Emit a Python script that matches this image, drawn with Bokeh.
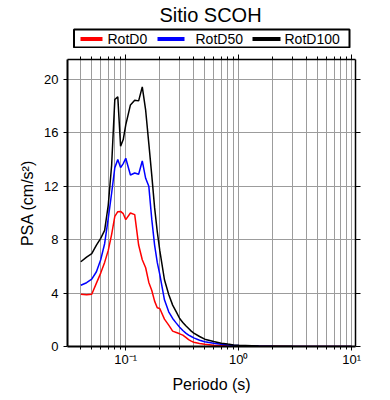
from bokeh.plotting import figure
from bokeh.layouts import column
from bokeh.models import (Range1d, FixedTicker, LogAxis, LinearAxis, CustomJSTickFormatter)
from bokeh.core.properties import value
from bokeh.embed import file_html
from bokeh.resources import INLINE

periods = [0.04, 0.045, 0.05, 0.055, 0.06, 0.065, 0.07, 0.075, 0.08, 0.085, 0.09, 0.095,
           0.1, 0.11, 0.12, 0.13, 0.14, 0.15, 0.16, 0.17, 0.18, 0.19, 0.2, 0.22, 0.24,
           0.26, 0.28, 0.3, 0.32, 0.34, 0.36, 0.38, 0.4, 0.45, 0.5, 0.6, 0.7, 0.8, 0.9,
           1.0, 1.5, 2.0, 3.0, 4.0, 5.0, 7.5, 10.0]

rotd0 = [3.92, 3.87, 3.92, 4.75, 5.5, 6.3, 7.2, 8.4, 9.75, 10.1, 10.12, 9.95,
         9.5, 10.0, 9.88, 7.6, 6.5, 5.9, 4.8, 4.2, 3.4, 2.9, 2.85, 2.05, 1.6,
         1.15, 1.05, 0.95, 0.85, 0.68, 0.52, 0.4, 0.32, 0.22, 0.16, 0.1, 0.07, 0.05, 0.04,
         0.03, 0.015, 0.01, 0.006, 0.004, 0.003, 0.002, 0.002]

rotd50 = [4.59, 4.78, 5.04, 5.6, 6.5, 7.7, 9.6, 11.5, 13.4, 14.0, 13.4, 13.7,
          14.1, 12.85, 13.0, 12.9, 13.9, 12.6, 12.0, 9.5, 7.6, 6.3, 5.4, 3.5, 2.6,
          2.1, 1.75, 1.45, 1.2, 1.0, 0.85, 0.75, 0.65, 0.47, 0.35, 0.25, 0.17, 0.12, 0.09,
          0.07, 0.03, 0.015, 0.008, 0.006, 0.004, 0.003, 0.003]

rotd100 = [6.35, 6.7, 6.95, 7.6, 8.1, 8.7, 10.6, 13.6, 18.5, 18.7, 15.0, 15.5,
           16.6, 18.1, 18.45, 18.4, 19.45, 17.7, 15.2, 12.8, 10.4, 8.6, 7.2, 5.0, 3.9,
           3.1, 2.6, 2.1, 1.8, 1.55, 1.35, 1.15, 1.0, 0.75, 0.55, 0.38, 0.25, 0.18, 0.12,
           0.09, 0.04, 0.02, 0.01, 0.008, 0.006, 0.005, 0.004]

series_names = ["RotD0", "RotD50", "RotD100"]
series_colors = ["#ff0000", "#0000ff", "#000000"]
title_text = "Sitio SCOH"

major_x = [0.1, 1.0, 10.0]
minor_x = [0.04, 0.05, 0.06, 0.07, 0.08, 0.09,
           0.2, 0.3, 0.4, 0.5, 0.6, 0.7, 0.8, 0.9,
           2.0, 3.0, 4.0, 5.0, 6.0, 7.0, 8.0, 9.0]
y_ticks = [0, 4, 8, 12, 16, 20]

FONT = "Liberation Sans"
GRID = "#9c9c9c"
W = 380
TOP_H = 48
LEFT, RIGHT = 67, 25

# ---------- header: title + legend (page-pixel coordinates, y downward) ----------
# (the column layout aligns this header's frame with the main plot's frame)
hdr = figure(width=W, height=TOP_H, x_range=Range1d(LEFT, W - RIGHT),
             y_range=Range1d(TOP_H, 0), output_backend="svg", toolbar_location=None,
             min_border_left=LEFT, min_border_right=RIGHT, min_border_top=0,
             min_border_bottom=0, x_axis_location=None, y_axis_location=None)
hdr.grid.visible = False
hdr.outline_line_color = None
hdr.text(x=[210], y=[14.5], text=[title_text], text_align="center",
         text_baseline="middle", text_font=value(FONT), text_font_size="20px",
         text_color="black")
hdr.quad(left=[73.5], right=[349], top=[29], bottom=[47], fill_color="white",
         line_color="black", line_width=2)
glyph_x0 = [80, 157, 252]
glyph_len = [22, 27, 28]
label_x = [107, 195, 284]
leg_y = 38.5
for gx, gl, lx, name, col in zip(glyph_x0, glyph_len, label_x, series_names, series_colors):
    hdr.segment(x0=[gx], y0=[leg_y], x1=[gx + gl], y1=[leg_y], line_color=col, line_width=4)
    hdr.text(x=[lx], y=[leg_y], text=[name], text_align="left", text_baseline="middle",
             text_font=value(FONT), text_font_size="14px", text_color="black")

# ---------- main plot ----------
p = figure(width=W, height=398 - TOP_H, x_axis_type="log",
           x_range=Range1d(0.0305, 10.8), y_range=Range1d(0, 21.5),
           output_backend="svg", toolbar_location=None,
           min_border_left=LEFT, min_border_right=RIGHT, min_border_top=9,
           min_border_bottom=52)
p.outline_line_color = None
p.background_fill_color = "white"

xt = FixedTicker(ticks=major_x, minor_ticks=minor_x)
yt = FixedTicker(ticks=y_ticks)

p.xaxis.ticker = xt
p.yaxis.ticker = yt
p.xgrid.ticker = xt
p.ygrid.ticker = yt
p.xgrid.grid_line_color = GRID
p.xgrid.minor_grid_line_color = GRID
p.ygrid.grid_line_color = GRID
p.xgrid.grid_line_width = 1
p.ygrid.grid_line_width = 1

p.xaxis.formatter = CustomJSTickFormatter(code="""
const e = Math.round(Math.log10(tick));
const sup = {'-': '\\u207b', '0': '\\u2070', '1': '\\u00b9', '2': '\\u00b2', '3': '\\u00b3'};
return '10' + String(e).split('').map(c => sup[c]).join('');
""")

for ax in (p.xaxis[0], p.yaxis[0]):
    ax.axis_line_width = 2
    ax.major_tick_line_width = 1
    ax.major_tick_out = 4
    ax.major_tick_in = 0
    ax.major_label_text_font = FONT
    ax.major_label_text_font_size = "13px"
    ax.major_label_text_color = "black"
    ax.axis_label_text_font = FONT
    ax.axis_label_text_font_size = "16px"
    ax.axis_label_text_font_style = "normal"
    ax.axis_label_text_color = "black"

p.xaxis.minor_tick_out = 3
p.xaxis.minor_tick_in = 0
p.yaxis.minor_tick_line_color = None
p.xaxis.axis_label = "Periodo (s)"
p.yaxis.axis_label = "PSA (cm/s\u00b2)"
p.xaxis.major_label_standoff = 1
p.yaxis.major_label_standoff = 5
p.xaxis.axis_label_standoff = 6
p.yaxis.axis_label_standoff = 5

blank = CustomJSTickFormatter(code="return ' ';")
top = LogAxis(ticker=xt, axis_line_width=1.5, major_tick_out=5, major_tick_in=0,
              minor_tick_out=3, minor_tick_in=0, formatter=blank,
              major_label_text_font_size="3px", major_label_standoff=0)
right = LinearAxis(ticker=yt, axis_line_width=1.5, major_tick_out=5, major_tick_in=0,
                   minor_tick_line_color=None, formatter=blank,
                   major_label_text_font_size="3px", major_label_standoff=0)
p.add_layout(top, "above")
p.add_layout(right, "right")

for vals, col in zip([rotd0, rotd50, rotd100], series_colors):
    p.line(periods, vals, line_color=col, line_width=1.5)

layout = column(hdr, p, spacing=0)
open("out.html", "w").write(file_html(layout, INLINE))
